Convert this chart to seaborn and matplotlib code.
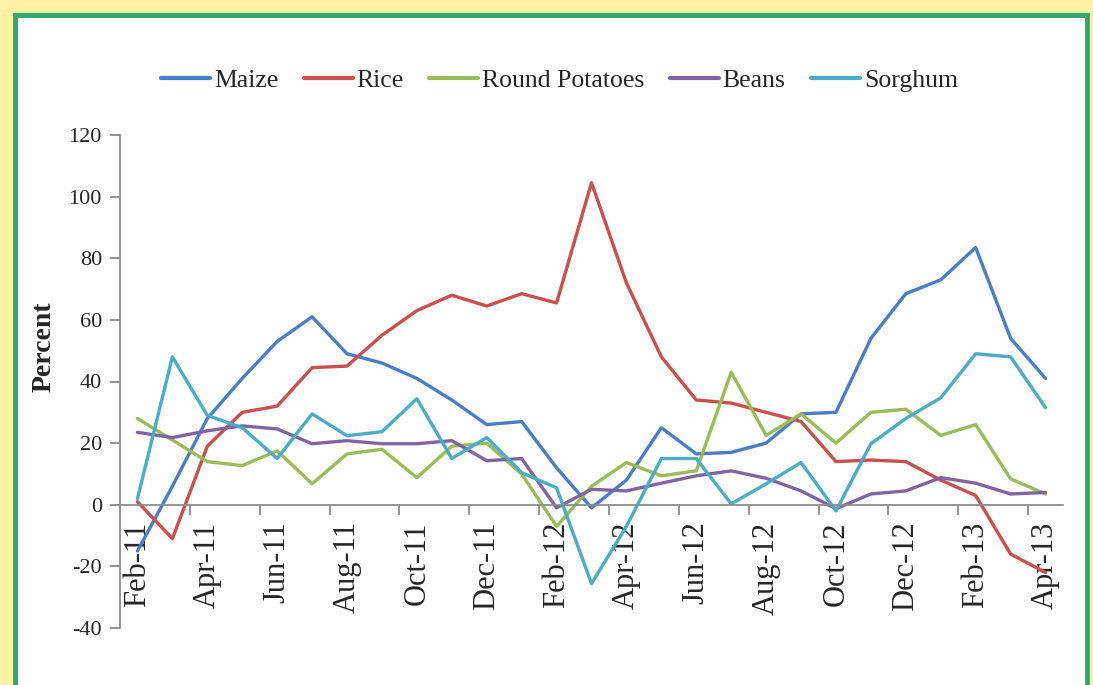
import numpy as np
import pandas as pd
import seaborn as sns
import matplotlib.pyplot as plt
from matplotlib.patches import Rectangle

# месяцы Feb-11 .. Apr-13
months = ["Feb-11", "Mar-11", "Apr-11", "May-11", "Jun-11", "Jul-11", "Aug-11", "Sep-11",
          "Oct-11", "Nov-11", "Dec-11", "Jan-12", "Feb-12", "Mar-12", "Apr-12", "May-12",
          "Jun-12", "Jul-12", "Aug-12", "Sep-12", "Oct-12", "Nov-12", "Dec-12", "Jan-13",
          "Feb-13", "Mar-13", "Apr-13"]

maize = [-15, 6, 28, 41, 53, 61, 49, 46, 41, 34, 26, 27, 12, -1, 8, 25, 16.5, 17,
         20, 29.5, 30, 54, 68.5, 73, 83.5, 54, 41]
rice = [1, -11, 19, 30, 32, 44.5, 45, 55, 63, 68, 64.5, 68.5, 65.5, 104.5, 72, 48,
        34, 33, 30, 27, 14, 14.5, 14, 8, 3, -16, -22]
round_potatoes = [28, 21, 14, 12.7, 17.5, 6.8, 16.5, 18, 8.8, 19, 20, 10, -7, 6, 13.7,
                  9.4, 11, 43, 22.5, 29.5, 20, 30, 31, 22.5, 26, 8.4, 3.5]
beans = [23.5, 21.8, 24, 25.6, 24.6, 19.8, 20.8, 19.8, 19.8, 20.8, 14.3, 15, -1, 5,
         4.5, 7, 9.4, 11, 8.6, 4.5, -1.3, 3.5, 4.5, 8.8, 7, 3.5, 4]
sorghum = [2, 48, 29, 25, 15, 29.5, 22.4, 23.7, 34.4, 15, 21.8, 10.4, 5.5, -25.6, -7,
           15, 15, 0.3, 6.8, 13.7, -2, 19.8, 28, 34.7, 49, 48, 31.5]

series = {"Maize": maize, "Rice": rice, "Round Potatoes": round_potatoes,
          "Beans": beans, "Sorghum": sorghum}
colors = {"Maize": "#4A7EC4", "Rice": "#C8504D", "Round Potatoes": "#9BBB59",
          "Beans": "#8064A2", "Sorghum": "#4BACC6"}

df = pd.concat([pd.DataFrame({"idx": np.arange(len(months)), "value": v, "crop": k})
                for k, v in series.items()], ignore_index=True)

sns.set_style("white")
plt.rcParams['font.family'] = ['Liberation Serif', 'DejaVu Serif']
plt.rcParams['axes.unicode_minus'] = False

fig = plt.figure(figsize=(10.93, 6.85), dpi=100)
fig.patch.set_facecolor("#FFF4A6")
# зелёная рамка
fig.patches.append(Rectangle((15 / 1093, -0.05), (1087 - 15) / 1093, 1.05 - 15 / 685,
                             transform=fig.transFigure, facecolor="white",
                             edgecolor="#2FA86B", linewidth=3.5, zorder=-1))

ax = fig.add_axes([120 / 1093, 1 - 628 / 685, 943 / 1093, 493 / 685])
ax.set_zorder(2)
ax.set_facecolor("none")

sns.lineplot(data=df, x="idx", y="value", hue="crop", palette=colors, linewidth=2.4,
             ax=ax, legend=False)

ax.set_xlim(-0.5, len(months) - 0.5)
ax.set_ylim(-40, 120)
ax.set_yticks(range(-40, 121, 20))
ax.tick_params(axis="y", left=True, direction="out", length=7, width=1.2, color="#808080",
               labelsize=16, pad=6)

# подписи каждые два месяца, засечки на границах категорий
ax.set_xticks(np.arange(0, len(months), 2))
ax.set_xticklabels(months[::2], fontweight="bold")
ax.set_xticks(np.arange(1.5, len(months) - 1, 2), minor=True)
ax.tick_params(axis="x", which="major", bottom=True, length=0, pad=12,
               labelrotation=90, labelsize=22)
ax.tick_params(axis="x", which="minor", bottom=True, direction="out", length=7,
               width=1.2, color="#808080")

for s in ["top", "right"]:
    ax.spines[s].set_visible(False)
ax.spines["bottom"].set_position(("data", 0))
for s in ["left", "bottom"]:
    ax.spines[s].set_color("#8C8C8C")
    ax.spines[s].set_linewidth(1.3)

ax.set_xlabel("")
ax.set_ylabel("Percent", fontsize=20, fontweight="bold")
ax.yaxis.set_label_coords(-0.067, 0.57)

handles = [plt.Line2D([], [], color=colors[k], linewidth=3) for k in series]
fig.legend(handles, list(series.keys()), loc="center", bbox_to_anchor=(0.512, 0.883),
           ncol=5, frameon=False, fontsize=18.5, handlelength=1.9, handletextpad=0.15,
           columnspacing=1.0)

fig.savefig("out.png", dpi=100, facecolor=fig.get_facecolor())
